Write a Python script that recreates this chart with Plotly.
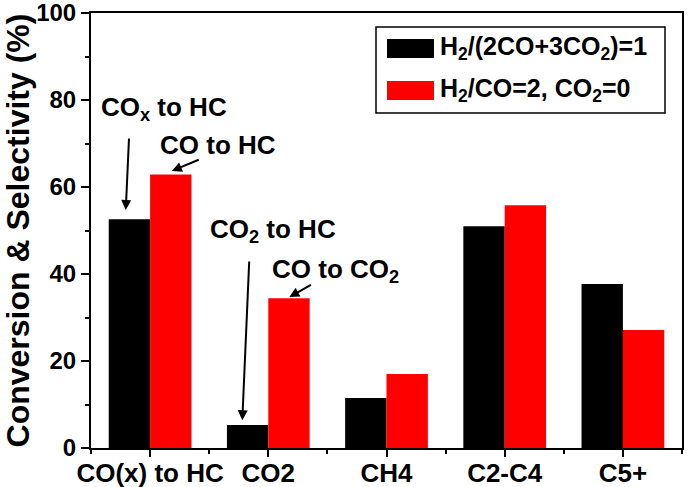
import plotly.graph_objects as go

categories = ["CO(x) to HC", "CO2", "CH4", "C2-C4", "C5+"]
series_names = ["H<sub>2</sub>/(2CO+3CO<sub>2</sub>)=1", "H<sub>2</sub>/CO=2, CO<sub>2</sub>=0"]
mixed_feed = [52.6, 5.3, 11.5, 51.0, 37.7]
co_only_feed = [62.9, 34.4, 17.0, 55.8, 27.1]
colors = ["#000000", "#ff0000"]

xpos = [i + 1 for i in range(len(categories))]
FONT = "Liberation Sans, Arial, sans-serif"

fig = go.Figure()
for name, vals, col in zip(series_names, [mixed_feed, co_only_feed], colors):
    fig.add_trace(go.Bar(x=xpos, y=vals, name=name, marker=dict(color=col, line=dict(width=0)),
                         showlegend=False))

fig.update_layout(
    width=689, height=487,
    margin=dict(l=91, r=7, t=13, b=39),
    plot_bgcolor="white", paper_bgcolor="white",
    barmode="group", bargap=0.3, bargroupgap=0,
    font=dict(family=FONT, color="black", weight="bold"),
)
fig.update_xaxes(
    range=[0.5, 5.5], tickmode="array", tickvals=xpos, ticktext=categories,
    tickfont=dict(size=26, family=FONT, weight="bold"), automargin=False,
    ticklabelstandoff=-6,
    showline=True, linecolor="black", linewidth=2, mirror=True,
    ticks="outside", ticklen=7, tickwidth=2, tickcolor="black",
    minor=dict(tickmode="array", tickvals=[x - 0.5 for x in xpos] + [xpos[-1] + 0.5],
               ticks="outside", ticklen=4, tickwidth=2, tickcolor="black"),
    showgrid=False, zeroline=False,
)
fig.update_yaxes(
    range=[0, 100], dtick=20, tick0=0, automargin=False, ticklabeloverflow="allow",
    tickfont=dict(size=24, family=FONT, weight="bold"),
    showline=True, linecolor="black", linewidth=2, mirror=True,
    ticks="outside", ticklen=8, tickwidth=2, tickcolor="black",
    minor=dict(dtick=10, tick0=0, ticks="outside", ticklen=4, tickwidth=2, tickcolor="black"),
    showgrid=False, zeroline=False,
    title=dict(text="Conversion & Selectivity (%)", font=dict(size=32, family=FONT, weight="bold"),
               standoff=8),
)

# annotations: text labels
labels = [
    ("CO<sub>x</sub> to HC", 0.568, 78.0),
    ("CO to HC", 1.068, 69.7),
    ("CO<sub>2</sub> to HC", 1.49, 50.1),
    ("CO to CO<sub>2</sub>", 2.017, 40.7),
]
for txt, x, y in labels:
    fig.add_annotation(x=x, y=y, xref="x", yref="y", text=txt, showarrow=False,
                       xanchor="left", yanchor="middle",
                       font=dict(size=26, family=FONT, color="black", weight="bold"))

arrows = [
    (0.794, 54.7, 0.822, 71.5),
    (1.184, 63.7, 1.424, 66.4),
    (1.78, 6.4, 1.839, 43.2),
    (2.178, 34.7, 2.373, 37.7),
]
for x, y, ax, ay in arrows:
    fig.add_annotation(x=x, y=y, ax=ax, ay=ay, xref="x", yref="y", axref="x", ayref="y",
                       text="", showarrow=True, arrowhead=2, arrowsize=1, arrowwidth=2,
                       arrowcolor="black", standoff=0)

# legend box (custom, large swatches)
def px(xp):
    return (xp - 91) / (682 - 91)

def py(yp):
    return (448 - yp) / (448 - 13)

fig.add_shape(type="rect", xref="paper", yref="paper", x0=px(376), x1=px(665), y0=py(113), y1=py(27),
              line=dict(color="black", width=1.5), fillcolor="white", layer="above")
for i, (name, col) in enumerate(zip(series_names, colors)):
    top = 39 + i * 42
    fig.add_shape(type="rect", xref="paper", yref="paper", x0=px(387), x1=px(434),
                  y0=py(top + 19), y1=py(top), line=dict(width=0), fillcolor=col, layer="above")
    fig.add_annotation(xref="paper", yref="paper", x=px(438), y=py(top + 9.5), text=name,
                       showarrow=False, xanchor="left", yanchor="middle",
                       font=dict(size=25, family=FONT, color="black", weight="bold"))

fig.write_html("out.html", config={"displayModeBar": False},
               post_script="document.body.style.margin='0';document.body.style.overflow='hidden';")
